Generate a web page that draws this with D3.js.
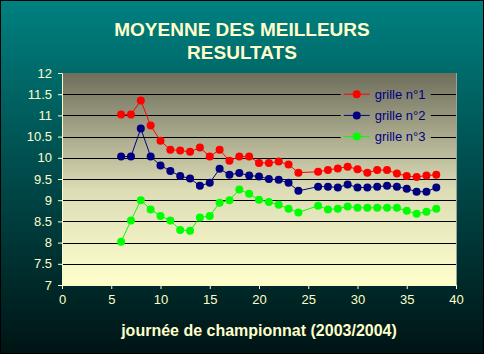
<!DOCTYPE html>
<html>
<head>
<meta charset="utf-8">
<script src="https://cdn.jsdelivr.net/npm/d3@7"></script>
<style>
  body { margin: 0; background: #000; }
  svg { display: block; }
</style>
</head>
<body>
<svg width="484" height="354"></svg>
<script>
// data (matchday 25 has no value)
const days = [6, 7, 8, 9, 10, 11, 12, 13, 14, 15, 16, 17, 18, 19, 20, 21, 22, 23, 24, 26, 27, 28, 29, 30, 31, 32, 33, 34, 35, 36, 37, 38];
const grille1 = [11.02, 11.02, 11.35, 10.76, 10.40, 10.19, 10.17, 10.14, 10.24, 10.03, 10.19, 9.93, 10.03, 10.03, 9.88, 9.88, 9.91, 9.84, 9.65, 9.67, 9.71, 9.75, 9.79, 9.73, 9.65, 9.71, 9.71, 9.63, 9.57, 9.55, 9.58, 9.60];
const grille2 = [10.03, 10.03, 10.69, 10.03, 9.82, 9.69, 9.57, 9.51, 9.34, 9.41, 9.74, 9.60, 9.64, 9.58, 9.56, 9.50, 9.48, 9.41, 9.22, 9.32, 9.32, 9.30, 9.37, 9.30, 9.30, 9.32, 9.34, 9.32, 9.27, 9.20, 9.20, 9.30];
const grille3 = [8.02, 8.52, 9.00, 8.78, 8.63, 8.52, 8.30, 8.28, 8.59, 8.63, 8.94, 9.00, 9.25, 9.15, 9.01, 8.96, 8.89, 8.80, 8.71, 8.87, 8.78, 8.80, 8.85, 8.82, 8.82, 8.82, 8.82, 8.82, 8.75, 8.68, 8.73, 8.80];
const seriesNames = ["grille n°1", "grille n°2", "grille n°3"];
const seriesColors = ["#ff0000", "#000080", "#00ff00"];
const xTicks = [0, 5, 10, 15, 20, 25, 30, 35, 40];
const yTicks = [7, 7.5, 8, 8.5, 9, 9.5, 10, 10.5, 11, 11.5, 12];

const svg = d3.select("svg"),
      W = 484, H = 354,
      margin = {top: 73, right: 28, bottom: 69, left: 62},
      width = W - margin.left - margin.right,
      height = H - margin.top - margin.bottom;

const defs = svg.append("defs");
const bg = defs.append("linearGradient").attr("id", "bg").attr("x1", 0).attr("y1", 0).attr("x2", 0).attr("y2", 1);
bg.append("stop").attr("offset", "0%").attr("stop-color", "#008080");
bg.append("stop").attr("offset", "100%").attr("stop-color", "#001414");

const pg = defs.append("linearGradient").attr("id", "plotbg")
    .attr("gradientUnits", "userSpaceOnUse")
    .attr("x1", 0).attr("y1", 0).attr("x2", 0).attr("y2", height);
pg.append("stop").attr("offset", "0%").attr("stop-color", "#6e6e5c");
pg.append("stop").attr("offset", "55%").attr("stop-color", "#dcdcb6");
pg.append("stop").attr("offset", "100%").attr("stop-color", "#ffffcc");

// page background with thin black frame
svg.append("rect").attr("width", W).attr("height", H).attr("fill", "#000");
svg.append("rect").attr("x", 1).attr("y", 1).attr("width", W - 2).attr("height", H - 2).attr("fill", "url(#bg)");

// title
svg.append("text")
   .attr("x", 242).attr("y", 36)
   .attr("text-anchor", "middle")
   .attr("fill", "#ffffcc")
   .style("font", "bold 19px 'Liberation Sans', Arial, sans-serif")
   .selectAll("tspan")
   .data(["MOYENNE DES MEILLEURS", "RESULTATS"])
   .join("tspan")
   .attr("x", 242)
   .attr("dy", (d, i) => i ? 23 : 0)
   .text(d => d);

const g = svg.append("g").attr("transform", `translate(${margin.left},${margin.top})`);

const x = d3.scaleLinear().domain([0, 40]).range([0, width]);
const y = d3.scaleLinear().domain([7, 12]).range([height, 0]);

g.append("rect").attr("width", width).attr("height", height).attr("fill", "url(#plotbg)");
g.append("line").attr("x1", width + 0.5).attr("x2", width + 0.5).attr("y1", 0).attr("y2", height).attr("stroke", "#a0a0a0");

// gridlines
g.selectAll(".grid")
 .data(yTicks.filter(v => v > 7 && v < 12))
 .join("line")
 .attr("class", "grid")
 .attr("x1", 0).attr("x2", width)
 .attr("y1", d => Math.round(y(d)) + 0.5).attr("y2", d => Math.round(y(d)) + 0.5)
 .attr("stroke", "#000").attr("stroke-width", 1);

// axes
const axisFont = "13px 'Liberation Sans', Arial, sans-serif";
const yAxis = g.append("g")
 .call(d3.axisLeft(y).tickValues(yTicks).tickSize(4).tickPadding(6).tickFormat(d3.format("")));
const xAxis = g.append("g")
 .attr("transform", `translate(0,${height})`)
 .call(d3.axisBottom(x).tickValues(xTicks).tickSize(4).tickPadding(6));
[yAxis, xAxis].forEach(a => {
  a.select(".domain").attr("stroke", "#ffffcc");
  a.selectAll(".tick line").attr("stroke", "#ffffcc");
  a.selectAll(".tick text").attr("fill", "#ffffcc").style("font", axisFont);
});

g.append("text")
 .attr("x", width / 2).attr("y", height + 51)
 .attr("text-anchor", "middle")
 .attr("fill", "#ffffcc")
 .style("font", "bold 16px 'Liberation Sans', Arial, sans-serif")
 .text("journée de championnat (2003/2004)");

// legend box (covers the gridlines behind it)
const legend = g.append("g").attr("transform", `translate(${x(28.3)},0)`);
legend.append("rect")
 .attr("x", 0).attr("y", 8).attr("width", 90).attr("height", 75)
 .attr("fill", "url(#plotbg)");

// series
const series = [grille1, grille2, grille3];
series.forEach((vals, i) => {
  const pts = days.map((d, j) => ({day: d, v: vals[j]}));
  g.append("path")
   .datum(pts)
   .attr("fill", "none")
   .attr("stroke", seriesColors[i])
   .attr("stroke-width", 1)
   .attr("d", d3.line().x(d => x(d.day)).y(d => y(d.v)));
  g.selectAll(".dot" + i)
   .data(pts)
   .join("circle")
   .attr("class", "dot" + i)
   .attr("cx", d => x(d.day))
   .attr("cy", d => y(d.v))
   .attr("r", 4)
   .attr("fill", seriesColors[i]);

  const ly = y(11.5 - i * 0.5);
  legend.append("line")
   .attr("x1", 3).attr("x2", 29).attr("y1", ly).attr("y2", ly)
   .attr("stroke", seriesColors[i]);
  legend.append("circle").attr("cx", 16).attr("cy", ly).attr("r", 4).attr("fill", seriesColors[i]);
  legend.append("text")
   .attr("x", 34).attr("y", ly).attr("dy", "0.35em")
   .attr("fill", "#000080")
   .style("font", axisFont)
   .text(seriesNames[i]);
});
</script>
</body>
</html>
